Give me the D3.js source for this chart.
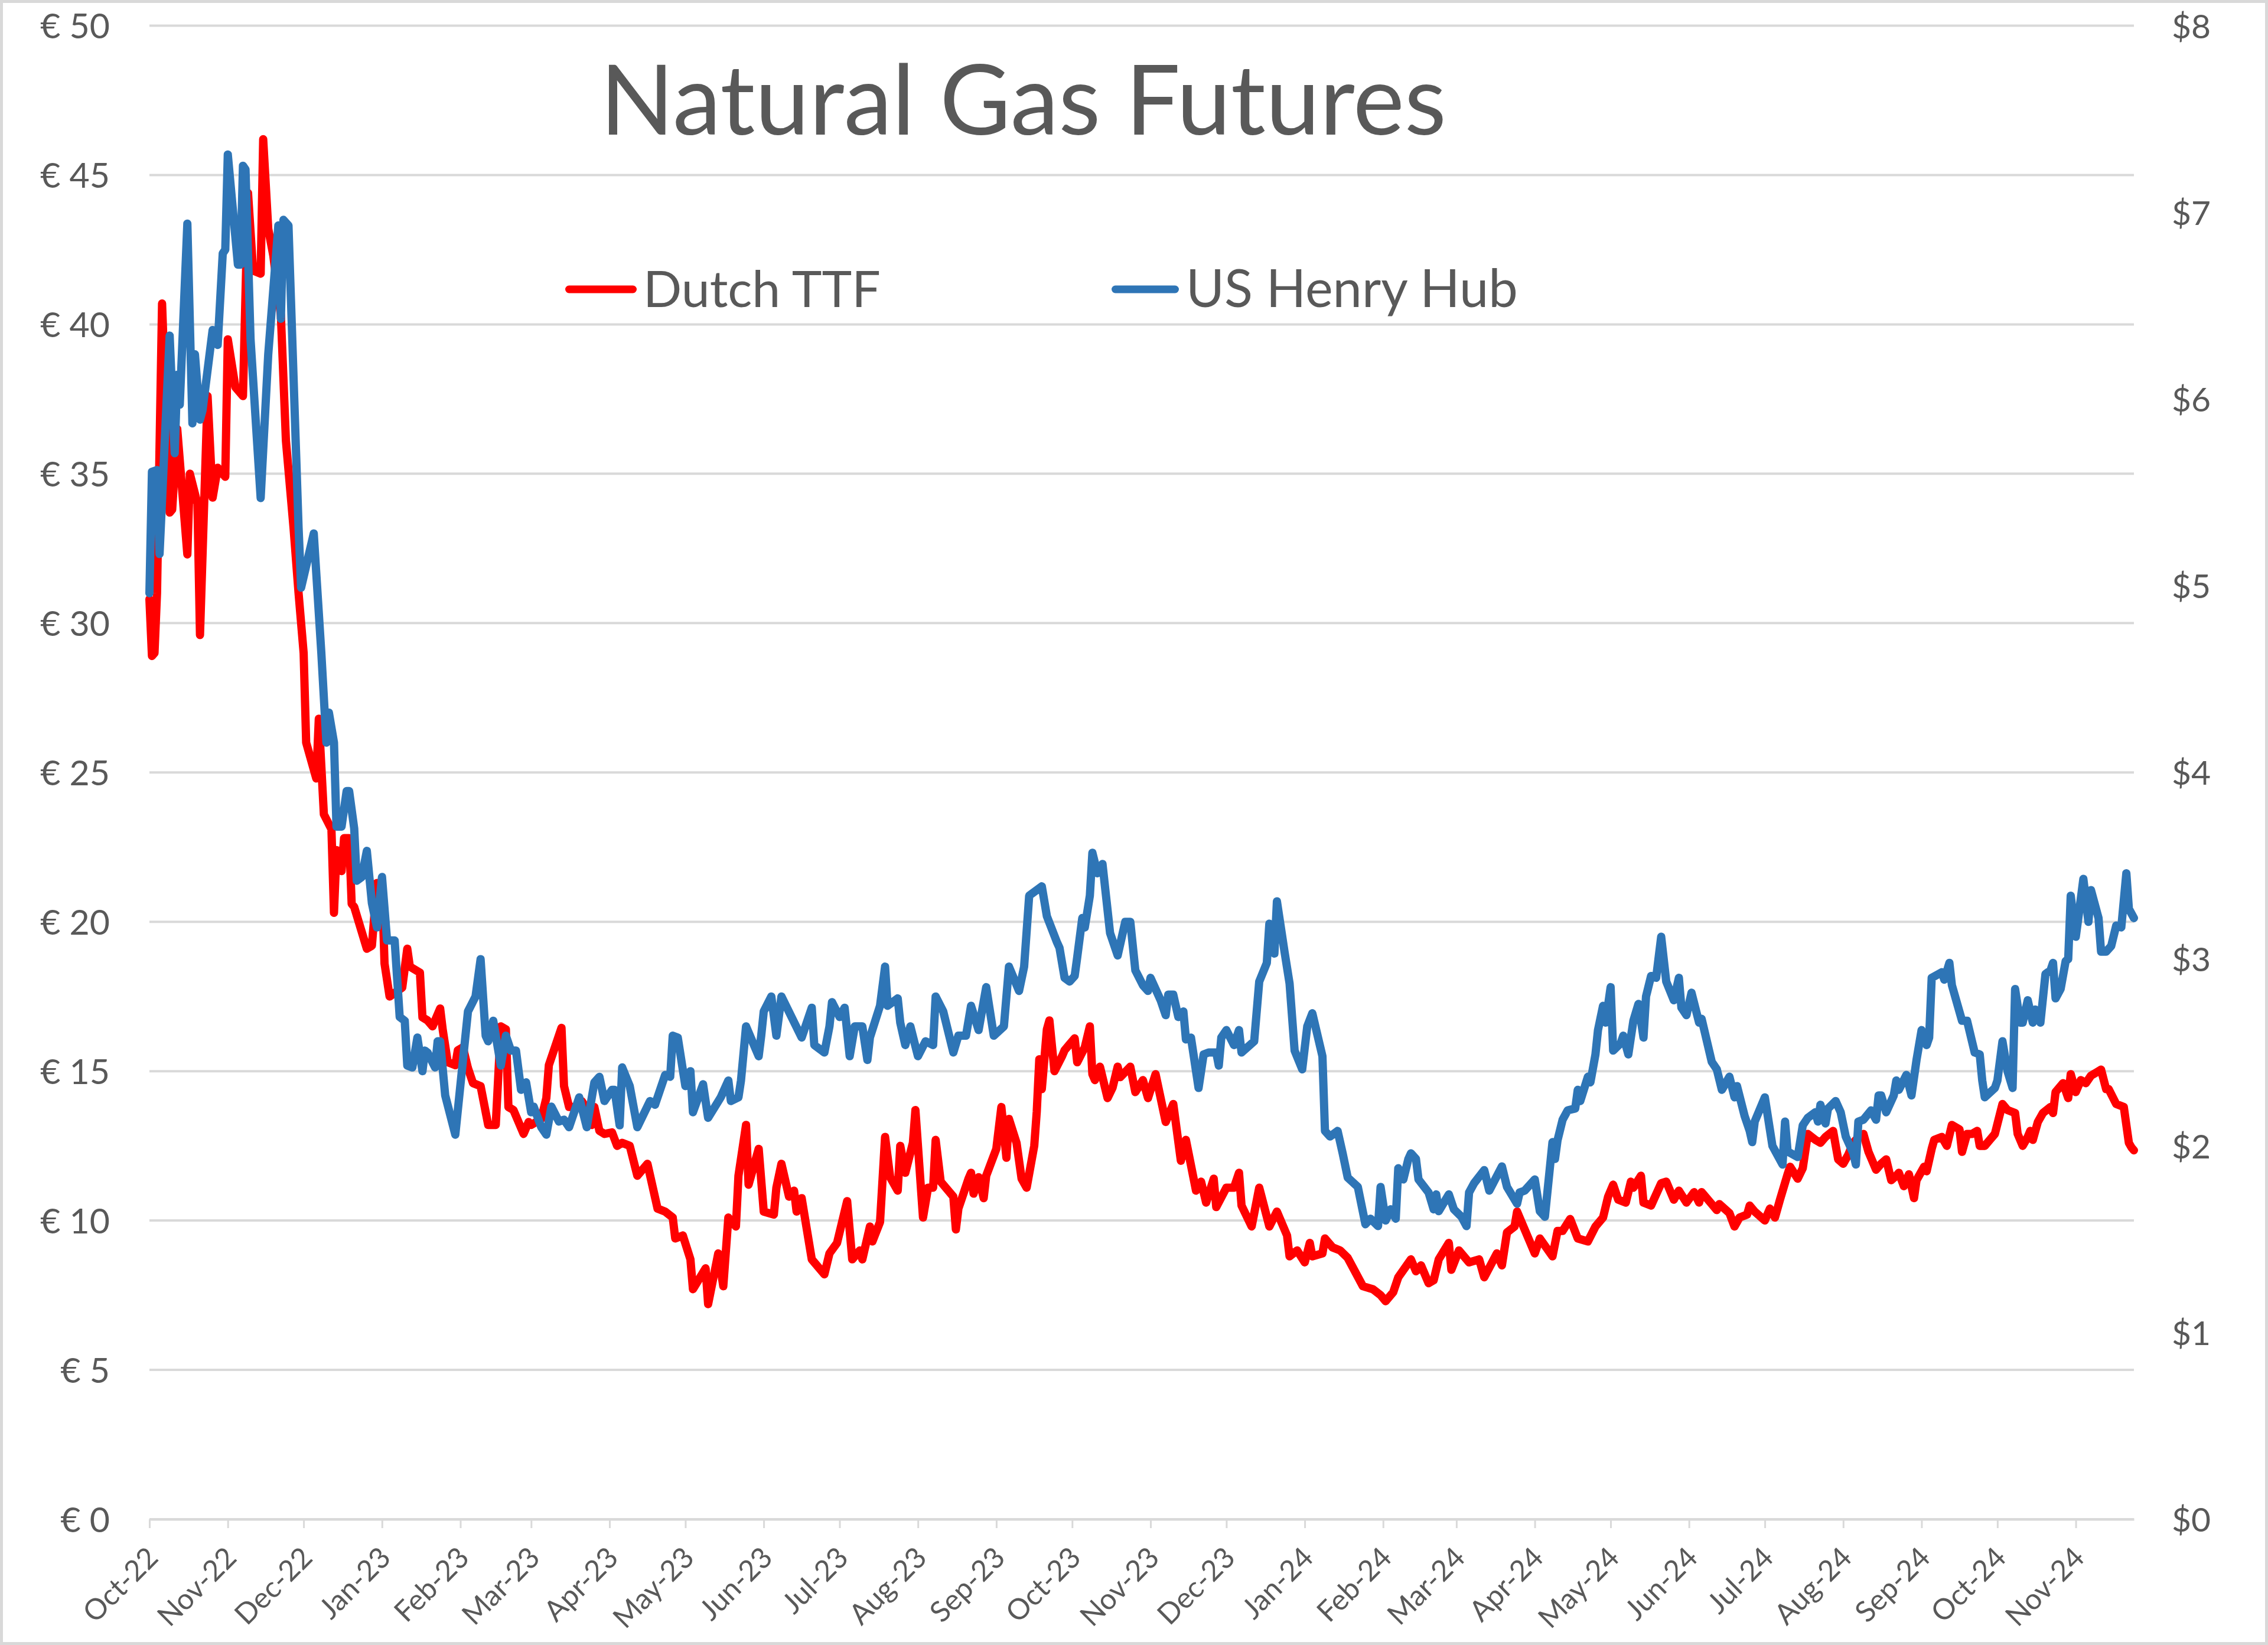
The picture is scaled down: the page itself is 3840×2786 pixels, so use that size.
<!DOCTYPE html>
<html>
<head>
<meta charset="utf-8">
<script src="https://cdn.jsdelivr.net/npm/d3@7"></script>
<style>
  body { margin: 0; background: #fff; overflow: hidden; }
  svg { display: block; }
</style>
</head>
<body>
<div id="chart"></div>
<script>
// values: TTF in EUR (left axis), Henry Hub in USD (right axis)
const ttfPrices = [
  ["2022-10-01",30.8],["2022-10-02",28.9],["2022-10-03",29.0],["2022-10-04",31.0],["2022-10-06",40.7],["2022-10-09",33.7],["2022-10-10",33.8],["2022-10-12",36.5],["2022-10-16",32.3],["2022-10-17",35.0],["2022-10-20",34.0],["2022-10-21",29.6],["2022-10-24",37.6],["2022-10-26",34.2],["2022-10-28",35.2],["2022-10-31",34.9],
  ["2022-11-01",39.5],["2022-11-04",37.9],["2022-11-07",37.6],["2022-11-09",44.4],["2022-11-11",41.8],["2022-11-14",41.7],["2022-11-15",46.2],["2022-11-17",43.2],["2022-11-19",42.3],["2022-11-22",40.3],["2022-11-24",36.1],["2022-11-27",33.2],["2022-11-29",31.0],
  ["2022-12-01",29.0],["2022-12-02",26.0],["2022-12-04",25.4],["2022-12-06",24.8],["2022-12-07",26.8],["2022-12-09",23.6],["2022-12-12",23.1],["2022-12-13",20.3],["2022-12-14",22.4],["2022-12-16",21.7],["2022-12-17",22.8],["2022-12-19",22.8],["2022-12-20",20.6],["2022-12-21",20.5],["2022-12-26",19.1],["2022-12-28",19.2],["2022-12-30",21.3],
  ["2023-01-01",21.2],["2023-01-02",18.6],["2023-01-04",17.5],["2023-01-09",17.8],["2023-01-11",19.1],["2023-01-12",18.5],["2023-01-16",18.3],["2023-01-17",16.8],["2023-01-19",16.7],["2023-01-21",16.5],["2023-01-24",17.1],["2023-01-25",16.4],["2023-01-27",15.3],["2023-01-30",15.2],["2023-01-31",15.7],
  ["2023-02-02",15.8],["2023-02-04",15.1],["2023-02-06",14.6],["2023-02-09",14.5],["2023-02-12",13.2],["2023-02-15",13.2],["2023-02-17",16.5],["2023-02-19",16.4],["2023-02-20",13.8],["2023-02-22",13.7],["2023-02-26",12.9],["2023-02-28",13.3],
  ["2023-03-01",13.2],["2023-03-05",13.4],["2023-03-07",14.1],["2023-03-08",15.2],["2023-03-13",16.45],["2023-03-14",14.5],["2023-03-16",13.8],["2023-03-19",13.8],["2023-03-21",14.0],["2023-03-23",13.75],["2023-03-25",13.2],["2023-03-26",13.8],["2023-03-28",13.0],["2023-03-30",12.9],
  ["2023-04-02",12.95],["2023-04-04",12.5],["2023-04-06",12.6],["2023-04-09",12.5],["2023-04-12",11.5],["2023-04-16",11.9],["2023-04-20",10.4],["2023-04-23",10.3],["2023-04-26",10.1],["2023-04-27",9.4],["2023-04-30",9.5],
  ["2023-05-03",8.7],["2023-05-04",7.7],["2023-05-09",8.4],["2023-05-10",7.2],["2023-05-14",8.9],["2023-05-16",7.8],["2023-05-18",10.1],["2023-05-21",9.8],["2023-05-22",11.5],["2023-05-25",13.2],["2023-05-26",11.2],["2023-05-30",12.4],
  ["2023-06-01",10.3],["2023-06-05",10.2],["2023-06-06",11.1],["2023-06-08",11.9],["2023-06-11",10.8],["2023-06-13",11.0],["2023-06-14",10.3],["2023-06-16",10.75],["2023-06-20",8.7],["2023-06-25",8.2],["2023-06-27",8.9],["2023-06-30",9.25],
  ["2023-07-04",10.65],["2023-07-06",8.7],["2023-07-09",9.0],["2023-07-10",8.7],["2023-07-13",9.8],["2023-07-14",9.3],["2023-07-17",9.95],["2023-07-19",12.8],["2023-07-21",11.45],["2023-07-24",11.0],["2023-07-25",12.5],["2023-07-27",11.6],["2023-07-30",12.6],["2023-07-31",13.7],
  ["2023-08-03",10.1],["2023-08-05",11.1],["2023-08-07",11.1],["2023-08-08",12.7],["2023-08-10",11.3],["2023-08-15",10.8],["2023-08-16",9.7],["2023-08-17",10.4],["2023-08-21",11.4],["2023-08-22",11.6],["2023-08-23",10.9],["2023-08-25",11.45],["2023-08-27",10.75],["2023-08-28",11.5],
  ["2023-09-01",12.4],["2023-09-03",13.8],["2023-09-05",12.1],["2023-09-06",13.4],["2023-09-09",12.6],["2023-09-11",11.4],["2023-09-13",11.1],["2023-09-16",12.5],["2023-09-17",13.65],["2023-09-18",15.4],["2023-09-19",14.4],["2023-09-21",16.4],["2023-09-22",16.7],["2023-09-24",15.0],["2023-09-27",15.5],["2023-09-28",15.7],["2023-09-30",15.9],
  ["2023-10-02",16.1],["2023-10-03",15.3],["2023-10-06",15.8],["2023-10-08",16.5],["2023-10-09",14.9],["2023-10-10",14.7],["2023-10-12",15.15],["2023-10-15",14.1],["2023-10-17",14.45],["2023-10-19",15.15],["2023-10-20",14.8],["2023-10-24",15.15],["2023-10-26",14.3],["2023-10-29",14.7],["2023-10-31",14.1],
  ["2023-11-03",14.9],["2023-11-07",13.3],["2023-11-10",13.9],["2023-11-13",12.0],["2023-11-15",12.7],["2023-11-19",11.0],["2023-11-21",11.3],["2023-11-23",10.6],["2023-11-26",11.4],["2023-11-27",10.45],
  ["2023-12-01",11.1],["2023-12-04",11.1],["2023-12-06",11.6],["2023-12-07",10.5],["2023-12-11",9.8],["2023-12-14",11.1],["2023-12-18",9.8],["2023-12-21",10.3],["2023-12-25",9.5],["2023-12-26",8.8],["2023-12-29",9.0],
  ["2024-01-01",8.6],["2024-01-03",9.25],["2024-01-04",8.8],["2024-01-08",8.9],["2024-01-09",9.4],["2024-01-12",9.1],["2024-01-15",9.0],["2024-01-18",8.75],["2024-01-24",7.8],["2024-01-28",7.7],["2024-01-31",7.5],
  ["2024-02-02",7.3],["2024-02-05",7.6],["2024-02-07",8.1],["2024-02-12",8.7],["2024-02-14",8.3],["2024-02-16",8.5],["2024-02-19",7.9],["2024-02-21",8.0],["2024-02-23",8.7],["2024-02-27",9.25],["2024-02-28",8.35],
  ["2024-03-02",9.0],["2024-03-06",8.6],["2024-03-10",8.7],["2024-03-12",8.1],["2024-03-17",8.9],["2024-03-19",8.5],["2024-03-21",9.6],["2024-03-24",9.8],["2024-03-25",10.3],["2024-03-27",9.9],
  ["2024-04-01",8.9],["2024-04-03",9.4],["2024-04-08",8.8],["2024-04-10",9.65],["2024-04-12",9.65],["2024-04-15",10.05],["2024-04-18",9.4],["2024-04-22",9.3],["2024-04-25",9.8],["2024-04-28",10.1],["2024-04-30",10.8],
  ["2024-05-02",11.2],["2024-05-04",10.7],["2024-05-07",10.6],["2024-05-09",11.3],["2024-05-10",11.1],["2024-05-13",11.5],["2024-05-14",10.6],["2024-05-17",10.5],["2024-05-21",11.25],["2024-05-23",11.3],["2024-05-26",10.7],["2024-05-28",11.0],["2024-05-31",10.6],
  ["2024-06-03",10.95],["2024-06-05",10.6],["2024-06-06",10.95],["2024-06-10",10.55],["2024-06-12",10.35],["2024-06-13",10.55],["2024-06-17",10.25],["2024-06-19",9.8],["2024-06-21",10.1],["2024-06-24",10.2],["2024-06-25",10.5],["2024-06-27",10.3],
  ["2024-07-01",10.0],["2024-07-03",10.4],["2024-07-05",10.1],["2024-07-07",10.7],["2024-07-10",11.55],["2024-07-11",11.8],["2024-07-14",11.4],["2024-07-16",11.75],["2024-07-18",12.9],["2024-07-21",12.7],["2024-07-23",12.6],["2024-07-25",12.8],["2024-07-28",13.0],["2024-07-30",12.05],
  ["2024-08-01",11.9],["2024-08-03",12.2],["2024-08-05",12.6],["2024-08-06",12.7],["2024-08-09",12.9],["2024-08-11",12.3],["2024-08-14",11.7],["2024-08-16",11.9],["2024-08-18",12.05],["2024-08-20",11.35],["2024-08-22",11.5],["2024-08-23",11.6],["2024-08-25",11.15],["2024-08-27",11.55],["2024-08-29",10.75],["2024-08-30",11.35],
  ["2024-09-02",11.8],["2024-09-03",11.65],["2024-09-05",12.4],["2024-09-06",12.7],["2024-09-09",12.8],["2024-09-11",12.5],["2024-09-13",13.2],["2024-09-16",13.05],["2024-09-17",12.3],["2024-09-19",12.9],["2024-09-21",12.9],["2024-09-23",13.0],["2024-09-24",12.5],["2024-09-26",12.5],["2024-09-28",12.7],["2024-09-30",12.9],
  ["2024-10-03",13.9],["2024-10-05",13.7],["2024-10-08",13.6],["2024-10-09",12.9],["2024-10-11",12.5],["2024-10-13",12.8],["2024-10-14",13.0],["2024-10-15",12.7],["2024-10-17",13.3],["2024-10-19",13.6],["2024-10-22",13.8],["2024-10-23",13.6],["2024-10-24",14.3],["2024-10-27",14.6],["2024-10-29",14.1],["2024-10-30",14.9],
  ["2024-11-01",14.3],["2024-11-03",14.7],["2024-11-05",14.6],["2024-11-07",14.85],["2024-11-09",14.95],["2024-11-11",15.05],["2024-11-13",14.4],["2024-11-14",14.4],["2024-11-17",13.9],["2024-11-20",13.8],["2024-11-22",12.6],["2024-11-23",12.45],["2024-11-24",12.35]
];

const henryHubPrices = [
  ["2022-10-01",4.96],["2022-10-02",5.61],["2022-10-04",5.62],["2022-10-05",5.17],["2022-10-09",6.34],["2022-10-11",5.71],["2022-10-12",6.13],["2022-10-13",5.97],["2022-10-16",6.94],["2022-10-18",5.87],["2022-10-19",6.24],["2022-10-21",5.89],["2022-10-22",5.94],["2022-10-26",6.37],["2022-10-28",6.29],["2022-10-30",6.78],["2022-10-31",6.80],
  ["2022-11-01",7.31],["2022-11-05",6.72],["2022-11-06",6.72],["2022-11-07",7.25],["2022-11-08",7.23],["2022-11-10",6.32],["2022-11-14",5.47],["2022-11-17",6.24],["2022-11-21",6.93],["2022-11-22",6.43],["2022-11-23",6.96],["2022-11-25",6.93],["2022-11-29",5.31],["2022-11-30",4.99],
  ["2022-12-05",5.28],["2022-12-08",4.64],["2022-12-10",4.16],["2022-12-11",4.32],["2022-12-13",4.16],["2022-12-14",3.71],["2022-12-16",3.71],["2022-12-18",3.90],["2022-12-19",3.90],["2022-12-21",3.70],["2022-12-22",3.42],["2022-12-24",3.44],["2022-12-26",3.58],["2022-12-28",3.30],["2022-12-30",3.17],
  ["2023-01-01",3.44],["2023-01-03",3.10],["2023-01-06",3.10],["2023-01-08",2.69],["2023-01-10",2.67],["2023-01-11",2.43],["2023-01-13",2.42],["2023-01-15",2.58],["2023-01-17",2.40],["2023-01-18",2.51],["2023-01-19",2.50],["2023-01-22",2.42],["2023-01-23",2.56],["2023-01-24",2.56],["2023-01-26",2.27],["2023-01-30",2.06],
  ["2023-02-04",2.72],["2023-02-07",2.80],["2023-02-09",3.00],["2023-02-11",2.59],["2023-02-12",2.56],["2023-02-14",2.67],["2023-02-17",2.43],["2023-02-19",2.59],["2023-02-21",2.51],["2023-02-23",2.51],["2023-02-25",2.30],["2023-02-27",2.34],
  ["2023-03-01",2.18],["2023-03-02",2.21],["2023-03-05",2.10],["2023-03-07",2.06],["2023-03-09",2.21],["2023-03-12",2.13],["2023-03-14",2.14],["2023-03-16",2.10],["2023-03-20",2.26],["2023-03-23",2.10],["2023-03-26",2.34],["2023-03-28",2.37],["2023-03-30",2.24],
  ["2023-04-02",2.30],["2023-04-03",2.30],["2023-04-05",2.11],["2023-04-06",2.42],["2023-04-09",2.32],["2023-04-12",2.10],["2023-04-17",2.24],["2023-04-19",2.22],["2023-04-23",2.38],["2023-04-25",2.37],["2023-04-26",2.59],["2023-04-28",2.58],
  ["2023-05-01",2.32],["2023-05-03",2.40],["2023-05-04",2.18],["2023-05-08",2.33],["2023-05-10",2.15],["2023-05-15",2.26],["2023-05-18",2.35],["2023-05-19",2.24],["2023-05-22",2.26],["2023-05-23",2.35],["2023-05-25",2.64],["2023-05-30",2.48],["2023-05-31",2.59],
  ["2023-06-01",2.72],["2023-06-04",2.80],["2023-06-06",2.59],["2023-06-08",2.80],["2023-06-16",2.58],["2023-06-20",2.74],["2023-06-21",2.54],["2023-06-25",2.50],["2023-06-27",2.64],["2023-06-28",2.77],
  ["2023-07-01",2.69],["2023-07-03",2.74],["2023-07-05",2.48],["2023-07-07",2.64],["2023-07-10",2.64],["2023-07-12",2.46],["2023-07-13",2.58],["2023-07-17",2.75],["2023-07-19",2.96],["2023-07-20",2.75],["2023-07-24",2.79],["2023-07-25",2.66],["2023-07-27",2.54],["2023-07-29",2.64],
  ["2023-08-01",2.48],["2023-08-04",2.56],["2023-08-07",2.54],["2023-08-08",2.80],["2023-08-11",2.72],["2023-08-15",2.50],["2023-08-17",2.59],["2023-08-20",2.59],["2023-08-22",2.75],["2023-08-25",2.62],["2023-08-28",2.85],["2023-08-31",2.59],
  ["2023-09-04",2.64],["2023-09-06",2.96],["2023-09-10",2.83],["2023-09-12",2.96],["2023-09-14",3.34],["2023-09-19",3.39],["2023-09-21",3.23],["2023-09-25",3.09],["2023-09-26",3.06],["2023-09-28",2.90],["2023-09-30",2.88],
  ["2023-10-02",2.91],["2023-10-03",3.01],["2023-10-05",3.22],["2023-10-06",3.17],["2023-10-08",3.34],["2023-10-09",3.57],["2023-10-11",3.46],["2023-10-13",3.51],["2023-10-16",3.14],["2023-10-19",3.02],["2023-10-22",3.20],["2023-10-24",3.20],["2023-10-26",2.94],["2023-10-29",2.86],["2023-10-31",2.83],
  ["2023-11-01",2.90],["2023-11-05",2.78],["2023-11-07",2.70],["2023-11-08",2.81],["2023-11-10",2.81],["2023-11-12",2.69],["2023-11-14",2.72],["2023-11-15",2.57],["2023-11-17",2.58],["2023-11-20",2.31],["2023-11-22",2.49],["2023-11-24",2.50],["2023-11-27",2.50],["2023-11-28",2.43],["2023-11-29",2.58],
  ["2023-12-01",2.62],["2023-12-04",2.54],["2023-12-06",2.62],["2023-12-07",2.50],["2023-12-12",2.56],["2023-12-14",2.88],["2023-12-17",2.98],["2023-12-18",3.19],["2023-12-20",3.03],["2023-12-21",3.31],["2023-12-24",3.04],["2023-12-26",2.87],["2023-12-28",2.51],["2023-12-31",2.41],
  ["2024-01-02",2.64],["2024-01-04",2.71],["2024-01-08",2.48],["2024-01-09",2.08],["2024-01-11",2.05],["2024-01-14",2.08],["2024-01-16",1.96],["2024-01-18",1.83],["2024-01-22",1.78],["2024-01-25",1.58],["2024-01-27",1.61],["2024-01-30",1.57],["2024-01-31",1.78],
  ["2024-02-02",1.60],["2024-02-04",1.66],["2024-02-06",1.61],["2024-02-07",1.88],["2024-02-09",1.82],["2024-02-11",1.93],["2024-02-12",1.96],["2024-02-14",1.93],["2024-02-15",1.82],["2024-02-19",1.75],["2024-02-21",1.66],["2024-02-22",1.74],["2024-02-23",1.65],["2024-02-27",1.74],["2024-02-29",1.66],
  ["2024-03-03",1.62],["2024-03-05",1.57],["2024-03-06",1.75],["2024-03-08",1.80],["2024-03-12",1.87],["2024-03-14",1.76],["2024-03-19",1.89],["2024-03-21",1.78],["2024-03-25",1.69],["2024-03-26",1.75],["2024-03-28",1.76],
  ["2024-04-01",1.82],["2024-04-03",1.65],["2024-04-05",1.62],["2024-04-08",2.02],["2024-04-09",1.93],["2024-04-10",2.03],["2024-04-12",2.14],["2024-04-14",2.19],["2024-04-17",2.20],["2024-04-18",2.30],["2024-04-19",2.24],["2024-04-22",2.37],["2024-04-23",2.34],["2024-04-25",2.49],["2024-04-26",2.62],["2024-04-28",2.75],["2024-04-29",2.66],
  ["2024-05-01",2.85],["2024-05-02",2.51],["2024-05-05",2.55],["2024-05-06",2.59],["2024-05-08",2.49],["2024-05-10",2.67],["2024-05-12",2.76],["2024-05-14",2.58],["2024-05-15",2.80],["2024-05-17",2.91],["2024-05-19",2.90],["2024-05-21",3.12],["2024-05-23",2.88],["2024-05-26",2.78],["2024-05-28",2.90],["2024-05-29",2.74],["2024-05-31",2.70],
  ["2024-06-02",2.82],["2024-06-05",2.66],["2024-06-06",2.68],["2024-06-10",2.45],["2024-06-12",2.41],["2024-06-14",2.30],["2024-06-17",2.37],["2024-06-19",2.26],["2024-06-20",2.32],["2024-06-23",2.16],["2024-06-25",2.08],["2024-06-26",2.02],["2024-06-27",2.13],
  ["2024-07-01",2.26],["2024-07-04",2.00],["2024-07-08",1.90],["2024-07-09",2.13],["2024-07-10",1.97],["2024-07-14",1.94],["2024-07-16",2.11],["2024-07-18",2.15],["2024-07-21",2.18],["2024-07-22",2.13],["2024-07-23",2.22],["2024-07-25",2.12],["2024-07-26",2.20],["2024-07-29",2.24],["2024-07-31",2.18],
  ["2024-08-02",2.05],["2024-08-05",1.96],["2024-08-06",1.90],["2024-08-07",2.13],["2024-08-09",2.14],["2024-08-12",2.19],["2024-08-14",2.14],["2024-08-15",2.27],["2024-08-16",2.27],["2024-08-18",2.18],["2024-08-21",2.27],["2024-08-22",2.35],["2024-08-23",2.30],["2024-08-26",2.38],["2024-08-28",2.27],["2024-08-30",2.46],
  ["2024-09-01",2.62],["2024-09-03",2.54],["2024-09-04",2.58],["2024-09-05",2.90],["2024-09-09",2.93],["2024-09-10",2.89],["2024-09-12",2.98],["2024-09-13",2.86],["2024-09-17",2.67],["2024-09-19",2.67],["2024-09-22",2.50],["2024-09-24",2.49],["2024-09-25",2.35],["2024-09-26",2.26],["2024-09-30",2.31],
  ["2024-10-01",2.35],["2024-10-03",2.56],["2024-10-05",2.40],["2024-10-07",2.31],["2024-10-08",2.84],["2024-10-10",2.66],["2024-10-11",2.66],["2024-10-13",2.78],["2024-10-15",2.66],["2024-10-16",2.73],["2024-10-18",2.66],["2024-10-20",2.92],["2024-10-22",2.94],["2024-10-23",2.98],["2024-10-24",2.79],["2024-10-26",2.84],["2024-10-28",2.99],["2024-10-29",3.00],["2024-10-30",3.34],
  ["2024-11-01",3.12],["2024-11-02",3.22],["2024-11-04",3.43],["2024-11-06",3.20],["2024-11-07",3.37],["2024-11-10",3.22],["2024-11-11",3.04],["2024-11-13",3.04],["2024-11-15",3.07],["2024-11-17",3.18],["2024-11-19",3.17],["2024-11-21",3.46],["2024-11-22",3.27],["2024-11-24",3.22]
];

const seriesNames = ["Dutch TTF", "US Henry Hub"];
const seriesColors = ["#FF0000", "#2E75B6"];
const eurTicks = [0, 5, 10, 15, 20, 25, 30, 35, 40, 45, 50];
const usdTicks = [0, 1, 2, 3, 4, 5, 6, 7, 8];
const chartTitle = "Natural Gas Futures";

const width = 3840;
const height = 2786;
const margin = { top: 43.5, right: 227, bottom: 213, left: 253 };
const plotLeft = margin.left;
const plotRight = width - margin.right;
const plotTop = margin.top;
const plotBottom = height - margin.bottom;
const textColor = "#595959";
const gridColor = "#d9d9d9";
const font = "Lato, 'Open Sans', sans-serif";
const lineWidth = 14;

const parseDate = d3.timeParse("%Y-%m-%d");
const ttfData = ttfPrices.map(([d, v]) => ({ date: parseDate(d), value: v }));
const hhData = henryHubPrices.map(([d, v]) => ({ date: parseDate(d), value: v }));

// scale a text's font size so its rendered width matches the reference
function fitWidth(sel, targetWidth) {
    const w = sel.node().getComputedTextLength();
    const size = parseFloat(sel.attr("font-size"));
    sel.attr("font-size", size * targetWidth / w);
}

const svg = d3.select("#chart")
    .append("svg")
    .attr("width", width)
    .attr("height", height);

svg.append("rect")
    .attr("x", 2.5)
    .attr("y", 2.5)
    .attr("width", width - 5)
    .attr("height", height - 5)
    .attr("fill", "#fff")
    .attr("stroke", gridColor)
    .attr("stroke-width", 5);

const x = d3.scaleTime()
    .domain([ttfData[0].date, ttfData[ttfData.length - 1].date])
    .range([plotLeft, plotRight]);

const yEur = d3.scaleLinear().domain([0, 50]).range([plotBottom, plotTop]);
const yUsd = d3.scaleLinear().domain([0, 8]).range([plotBottom, plotTop]);

// horizontal gridlines
svg.append("g")
    .selectAll("line")
    .data(eurTicks)
    .join("line")
    .attr("x1", plotLeft)
    .attr("x2", plotRight)
    .attr("y1", d => yEur(d))
    .attr("y2", d => yEur(d))
    .attr("stroke", gridColor)
    .attr("stroke-width", 4);

// left axis (EUR)
const leftAxis = svg.append("g")
    .attr("transform", "translate(186,0)")
    .call(d3.axisLeft(yEur).tickValues(eurTicks).tickFormat(d => "€ " + d).tickSize(0).tickPadding(0));
leftAxis.select(".domain").remove();
leftAxis.selectAll("text")
    .attr("font-family", font)
    .attr("font-size", 59)
    .attr("fill", textColor)
    .attr("dy", "0.36em");

// right axis (USD)
const rightAxis = svg.append("g")
    .attr("transform", "translate(3677,0)")
    .call(d3.axisRight(yUsd).tickValues(usdTicks).tickFormat(d => "$" + d).tickSize(0).tickPadding(0));
rightAxis.select(".domain").remove();
rightAxis.selectAll("text")
    .attr("font-family", font)
    .attr("font-size", 57)
    .attr("fill", textColor)
    .attr("dy", "0.36em");

// bottom date axis
const xAxis = svg.append("g")
    .attr("transform", `translate(0,${plotBottom})`)
    .call(d3.axisBottom(x)
        .ticks(d3.timeMonth.every(1))
        .tickFormat(d3.timeFormat("%b-%y"))
        .tickSize(15)
        .tickSizeOuter(0));
xAxis.select(".domain")
    .attr("stroke", gridColor)
    .attr("stroke-width", 4);
xAxis.selectAll(".tick line")
    .attr("stroke", gridColor)
    .attr("stroke-width", 3);
xAxis.selectAll(".tick text")
    .attr("x", 0)
    .attr("y", 0)
    .attr("dy", "0.35em")
    .attr("transform", "translate(5,56) rotate(-45)")
    .attr("text-anchor", "end")
    .attr("font-family", font)
    .attr("font-size", 49)
    .attr("fill", textColor);

// series
const ttfLine = d3.line().x(d => x(d.date)).y(d => yEur(d.value));
const hhLine = d3.line().x(d => x(d.date)).y(d => yUsd(d.value));

svg.append("path")
    .datum(ttfData)
    .attr("d", ttfLine)
    .attr("fill", "none")
    .attr("stroke", seriesColors[0])
    .attr("stroke-width", lineWidth)
    .attr("stroke-linejoin", "round")
    .attr("stroke-linecap", "round");

svg.append("path")
    .datum(hhData)
    .attr("d", hhLine)
    .attr("fill", "none")
    .attr("stroke", seriesColors[1])
    .attr("stroke-width", lineWidth)
    .attr("stroke-linejoin", "round")
    .attr("stroke-linecap", "round");

// title
const title = svg.append("text")
    .attr("x", 1016)
    .attr("y", 228)
    .attr("font-family", font)
    .attr("font-size", 158)
    .attr("fill", textColor)
    .text(chartTitle);
fitWidth(title, 1433);

// legend
const legendItems = [
    { name: seriesNames[0], color: seriesColors[0], x1: 957, x2: 1078, tx: 1089, tw: 402 },
    { name: seriesNames[1], color: seriesColors[1], x1: 1882, x2: 1996, tx: 2008, tw: 562 }
];
const legend = svg.append("g");
legendItems.forEach(item => {
    legend.append("line")
        .attr("x1", item.x1 + 6.5)
        .attr("x2", item.x2 - 6.5)
        .attr("y1", 490)
        .attr("y2", 490)
        .attr("stroke", item.color)
        .attr("stroke-width", 13)
        .attr("stroke-linecap", "round");
    const t = legend.append("text")
        .attr("x", item.tx)
        .attr("y", 520)
        .attr("font-family", font)
        .attr("font-size", 88)
        .attr("fill", textColor)
        .text(item.name);
    fitWidth(t, item.tw);
});
</script>
</body>
</html>
